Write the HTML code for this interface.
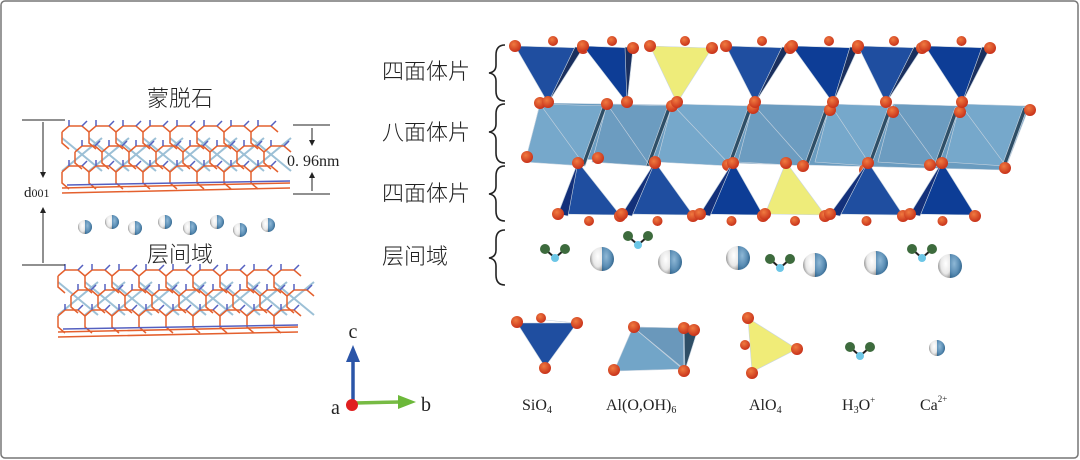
<!DOCTYPE html>
<html><head><meta charset="utf-8"><style>
html,body{margin:0;padding:0;background:#fff;}
svg{display:block;}
text{font-family:"Liberation Serif","Noto Serif CJK SC","Noto Sans CJK SC",serif;fill:#222;}
.cjk{font-family:"Noto Sans CJK SC","WenQuanYi Zen Hei",sans-serif;font-weight:300;}
</style></head><body>
<svg id="s" width="1080" height="460" viewBox="0 0 1080 460" xmlns="http://www.w3.org/2000/svg">
<defs>
<radialGradient id="o" cx="40%" cy="35%" r="65%"><stop offset="0" stop-color="#f07a40"/><stop offset="1" stop-color="#c8321a"/></radialGradient>
<radialGradient id="cw" cx="65%" cy="40%" r="70%"><stop offset="0" stop-color="#ffffff"/><stop offset="0.6" stop-color="#e8e8e8"/><stop offset="1" stop-color="#8a8a8a"/></radialGradient>
<radialGradient id="cb" cx="35%" cy="40%" r="70%"><stop offset="0" stop-color="#8fb8d6"/><stop offset="0.6" stop-color="#5a8db4"/><stop offset="1" stop-color="#2a5d85"/></radialGradient>
</defs>
<rect x="1" y="1" width="1077" height="457" rx="4" fill="#fff" stroke="#777" stroke-width="1.5"/>
<g id="lat"></g>
<text x="180" y="106" font-size="22" class="cjk" text-anchor="middle">蒙脱石</text>
<text x="180" y="262" font-size="22" class="cjk" text-anchor="middle">层间域</text>
<g stroke="#222" stroke-width="1" fill="none">
<line x1="22" y1="120" x2="65" y2="120"/><line x1="22" y1="265" x2="65" y2="265"/>
<line x1="43" y1="122" x2="43" y2="177"/><line x1="43" y1="208" x2="43" y2="263"/>
<line x1="293" y1="125" x2="330" y2="125"/><line x1="293" y1="194" x2="330" y2="194"/>
<line x1="312" y1="128" x2="312" y2="144"/><line x1="312" y1="175" x2="312" y2="191"/>
</g>
<g fill="#222"><path d="M40,172 L46,172 L43,178Z"/><path d="M40,213 L46,213 L43,207Z"/><path d="M309,140 L315,140 L312,146Z"/><path d="M309,178 L315,178 L312,172Z"/></g>
<text x="24" y="197" font-size="15">d<tspan font-size="12">001</tspan></text>
<text x="287" y="166" font-size="16">0. 96nm</text>
<g class="cjk" font-size="22">
<text x="382" y="79" class="cjk">四面体片</text>
<text x="382" y="140" class="cjk">八面体片</text>
<text x="382" y="201" class="cjk">四面体片</text>
<text x="382" y="264" class="cjk">层间域</text>
</g>
<g stroke="#222" stroke-width="1.6" fill="none">
<path d="M505,45 Q496,45 496,55 L496,65 Q496,72 489,73 Q496,74 496,81 L496,91 Q496,101 505,101"/>
<path d="M505,104 Q496,104 496,114 L496,124 Q496,131 489,132 Q496,133 496,140 L496,153 Q496,163 505,163"/>
<path d="M505,166 Q496,166 496,176 L496,186 Q496,193 489,194 Q496,195 496,202 L496,211 Q496,221 505,221"/>
<path d="M505,230 Q496,230 496,240 L496,250 Q496,257 489,258 Q496,259 496,266 L496,275 Q496,285 505,285"/>
</g>
<g id="poly"></g>
<line x1="353" y1="404" x2="353" y2="360" stroke="#2b55a8" stroke-width="3.5"/>
<path d="M346,362 L360,362 L353,345Z" fill="#2b55a8"/>
<line x1="355" y1="403" x2="400" y2="402" stroke="#77bb44" stroke-width="3.5"/>
<path d="M398,395 L398,409 L416,402Z" fill="#6cb83a"/>
<circle cx="352" cy="405" r="6" fill="#e02020"/>
<text x="331" y="414" font-size="20">a</text>
<text x="421" y="411" font-size="20">b</text>
<text x="353" y="338" font-size="20" text-anchor="middle">c</text>
<text x="522" y="410" font-size="16">SiO<tspan font-size="10" dy="3">4</tspan></text>
<text x="606" y="410" font-size="16">Al(O,OH)<tspan font-size="10" dy="3">6</tspan></text>
<text x="749" y="410" font-size="16">AlO<tspan font-size="10" dy="3">4</tspan></text>
<text x="842" y="410" font-size="16">H<tspan font-size="10" dy="3">3</tspan><tspan dy="-3">O</tspan><tspan font-size="9" dy="-7">+</tspan></text>
<text x="920" y="410" font-size="16">Ca<tspan font-size="9" dy="-8">2+</tspan></text>
</svg>
<script>
(function(){
var NS="http://www.w3.org/2000/svg";
function el(p,t,a){var e=document.createElementNS(NS,t);for(var k in a)e.setAttribute(k,a[k]);p.appendChild(e);return e;}
var lat=document.getElementById('lat'),poly=document.getElementById('poly');
function Ca(p,x,y,r){
 el(p,'path',{d:'M'+x+','+(y-r)+' A'+r+','+r+' 0 0 0 '+x+','+(y+r)+'Z',fill:'url(#cw)'});
 el(p,'path',{d:'M'+x+','+(y-r)+' A'+r+','+r+' 0 0 1 '+x+','+(y+r)+'Z',fill:'url(#cb)'});
}
function lattice(x0,y0,w){
 var g=el(lat,'g',{fill:'none','stroke-width':'1.5'});
 var step=27;
 for(var i=0;i*step<w-20;i++){
  var x=x0+i*step;
  el(g,'path',{d:'M'+(x)+','+(y0+12)+' L'+(x+40)+','+(y0+45),stroke:'#9cc0d6','stroke-width':'2'});
  el(g,'path',{d:'M'+(x+40)+','+(y0+12)+' L'+(x)+','+(y0+45),stroke:'#9cc0d6','stroke-width':'2'});
 }
 for(var r=0;r<3;r++){
  var yy=y0+r*20;
  for(var i=0;i*step<w-20;i++){
   var x=x0+i*step+(r%2)*13;
   el(g,'path',{d:'M'+x+','+(yy+6)+' L'+(x+7)+','+yy+' L'+(x+20)+','+yy+' L'+(x+27)+','+(yy+6)+' M'+x+','+(yy+6)+' L'+x+','+(yy+17)+' L'+(x+7)+','+(yy+23),stroke:'#e4602e'});
   el(g,'path',{d:'M'+(x+7)+','+yy+' L'+(x+7)+','+(yy-6)+' M'+(x+20)+','+yy+' l5,-5',stroke:'#5560c0'});
  }
 }
 el(g,'path',{d:'M'+(x0)+','+(y0+62)+' L'+(x0+w)+','+(y0+57)+' M'+(x0)+','+(y0+67)+' L'+(x0+w)+','+(y0+62),stroke:'#e4602e'});
 el(g,'path',{d:'M'+(x0+5)+','+(y0+59)+' L'+(x0+w)+','+(y0+55),stroke:'#5560c0'});
}
lattice(62,126,228);lattice(58,270,240);
[[85,227],[112,222],[135,228],[165,222],[190,228],[217,222],[240,230],[268,225]].forEach(function(p){Ca(lat,p[0],p[1],7);});
function O(x,y,r){el(poly,'circle',{cx:x,cy:y,r:r||6,fill:'url(#o)'});}
function P(pts,fill){el(poly,'polygon',{points:pts.map(function(p){return p.join(',')}).join(' '),fill:fill,stroke:'#c8d4e0','stroke-width':'0.6'});}
P([[540,103],[1028,110],[1005,170],[527,158]],'#6a9cc0');
var xs=[540,607,672,753,830,893,960,1028];
for(var i=0;i<xs.length-1;i++){
 var a=xs[i],b=xs[i+1];
 P([[a,104],[b,106],[b-22,166],[a-15,162]],i%2?'#6c9cc0':'#76a8cb');
 P([[b,106],[b-5,108],[b-26,166],[b-22,166]],'#2e4e66');
 el(poly,'line',{x1:a,y1:104,x2:b-22,y2:166,stroke:'#c8d4e0','stroke-width':'0.6'});
}
[[540,103],[607,104],[672,106],[753,108],[830,110],[893,112],[960,112],[1030,110],[527,157],[598,158],[655,162],[728,165],[803,166],[865,170],[930,165],[1005,168]].forEach(function(p){O(p[0],p[1]);});
var tops=[[515,583,548,'#1f4ea0'],[583,633,627,'#0d3d96'],[650,712,677,'#eeec7a'],[726,790,755,'#1f4ea0'],[792,858,833,'#0d3d96'],[858,922,886,'#1f4ea0'],[925,990,962,'#0d3d96']];
tops.forEach(function(t){
 P([[t[0],46],[t[1],48],[t[2],103]],t[3]);
 if(t[3]!='#eeec7a'){P([[t[1]-8,47],[t[1],48],[t[2],103]],'#1a2f5e');}
 O(t[0],46);O(t[1],48);O(t[2],102);O((t[0]+t[1])/2+4,41,5);
});
var bot=[[558,620,578,'#1f4ea0'],[622,693,655,'#1f4ea0'],[700,763,733,'#0d3d96'],[765,825,786,'#eeec7a'],[830,903,868,'#1f4ea0'],[910,975,942,'#0d3d96']];
bot.forEach(function(t){
 P([[t[0],214],[t[1],215],[t[2],162]],t[3]);
 if(t[3]!='#eeec7a'){P([[t[0],214],[t[0]+10,216],[t[2],162]],'#13307a');}
 O(t[0],214);O(t[1],216);O(t[2],163);O((t[0]+t[1])/2,221,5);
});
function H(x,y,s){var g=el(poly,'g',{});
 el(g,'path',{d:'M'+(x-9)+','+(y-8)+' L'+x+','+y+' L'+(x+9)+','+(y-8),stroke:'#222','stroke-width':'2',fill:'none'});
 el(g,'circle',{cx:x-10,cy:y-9,r:5*s,fill:'#3d6b3d'});el(g,'circle',{cx:x+10,cy:y-9,r:5*s,fill:'#3d6b3d'});
 el(g,'circle',{cx:x,cy:y,r:4*s,fill:'#6cc6e6'});}
H(555,258,1);H(638,245,1);H(780,268,1);H(922,258,1);
[[602,259],[670,262],[738,258],[815,265],[876,263],[950,266]].forEach(function(p){Ca(poly,p[0],p[1],12);});
P([[517,323],[577,323],[545,367]],'#1f4ea0');P([[545,320],[577,323],[565,322]],'#1a2f5e');
O(517,322);O(577,323);O(545,368);O(541,318,5);
P([[633,327],[683,328],[696,333],[684,369],[614,371]],'#72a5c8');
P([[633,327],[683,328],[684,369]],'#6a98bb');
P([[684,328],[697,332],[685,370]],'#2e4e66');
el(poly,'line',{x1:633,y1:327,x2:684,y2:370,stroke:'#c8d4e0','stroke-width':'0.6'});
O(634,327);O(684,328);O(614,370);O(684,371);O(694,330);
P([[748,318],[797,349],[752,372]],'#f0ec78');
O(748,318);O(797,349);O(752,373);O(745,345,5);
H(860,356,1);
Ca(poly,937,348,8);
})();
</script>
</body></html>
